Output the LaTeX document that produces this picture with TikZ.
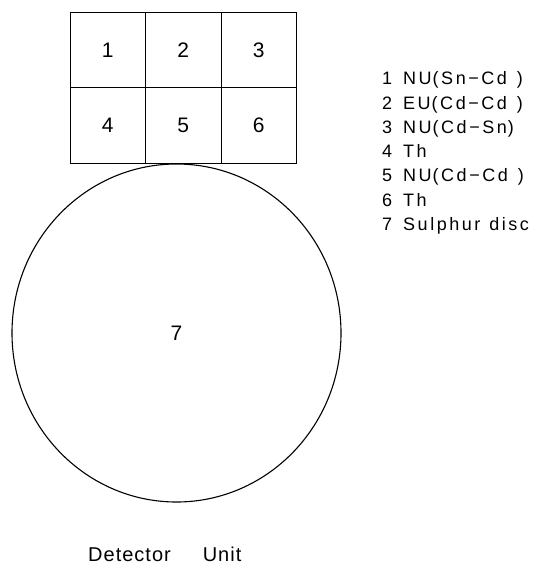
\documentclass[tikz,border=0pt]{standalone}
\usepackage{fontspec}
\setmainfont{Liberation Sans}
\newfontfamily\keyfont[LetterSpace=14]{Liberation Sans}
\newfontfamily\capfont[LetterSpace=5]{Liberation Sans}
\usetikzlibrary{shapes.geometric}
\newcommand{\gap}[1][3pt]{\hspace{#1}}
\begin{document}
\begin{tikzpicture}[x=1pt,y=-1pt,
  cell/.style={draw,line width=0.9pt,minimum width=75.5pt,minimum height=75.5pt,inner sep=0pt,
    font=\fontsize{21}{21}\selectfont},
  legend/.style={anchor=base west,inner sep=0pt,font=\fontsize{18}{18}\keyfont},
  caption/.style={anchor=base west,inner sep=0pt,font=\fontsize{20}{20}\capfont}]
\useasboundingbox (0,0) rectangle (536,564);
% detector cells, two rows of three
\node[cell] (c1) at (107.7,50) {1};
\node[cell] (c2) at (183.2,50) {2};
\node[cell] (c3) at (258.7,50) {3};
\node[cell] (c4) at (107.7,125.5) {4};
\node[cell] (c5) at (183.2,125.5) {5};
\node[cell] (c6) at (258.7,125.5) {6};
% sulphur disc below the cells
\node[draw,ellipse,line width=1.1pt,minimum width=329pt,minimum height=338pt,inner sep=0pt,
  font=\fontsize{21}{21}\selectfont] (disc) at (176.5,333) {7};
% key to the numbers
\node[legend] (k1) at (382,85.0)  {1\gap[11pt]NU\gap[1pt](Sn−Cd\gap[10pt])};
\node[legend] (k2) at (382,109.2) {2\gap[11pt]EU\gap[1pt](Cd−Cd\gap[10pt])};
\node[legend] (k3) at (382,133.4) {3\gap[11pt]NU\gap[1pt](Cd−Sn\gap[1pt])};
\node[legend] (k4) at (382,157.6) {4\gap[11pt]Th};
\node[legend] (k5) at (382,181.8) {5\gap[11pt]NU\gap[1pt](Cd−Cd\gap[10pt])};
\node[legend] (k6) at (382,206.0) {6\gap[11pt]Th};
\node[legend] (k7) at (382,230.2) {7\gap[11pt]Sulphur\gap[9pt]disc};
% caption
\node[caption] (cap) at (88,561) {Detector\gap[32pt]Unit};
\end{tikzpicture}
\end{document}
